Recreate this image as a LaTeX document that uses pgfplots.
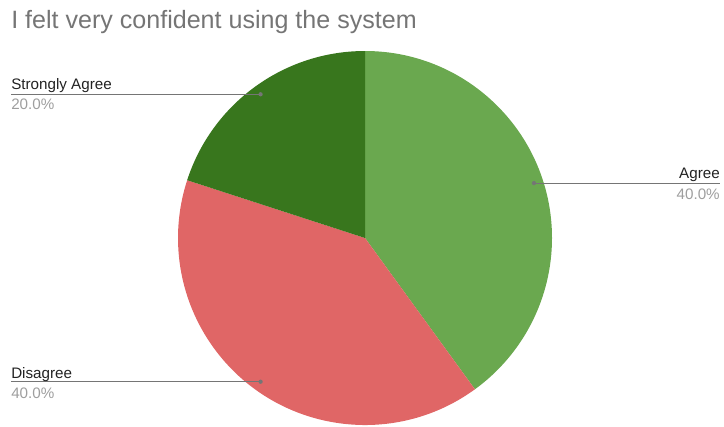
\documentclass[border=0pt]{standalone}
\usepackage{pgfplots}
\pgfplotsset{compat=1.18}
\usepackage{fontspec}
\setmainfont{Liberation Sans}
\definecolor{cAgree}{HTML}{6AA84F}
\definecolor{cDis}{HTML}{E06666}
\definecolor{cSA}{HTML}{38761D}
\definecolor{titlegray}{HTML}{757575}
\definecolor{pctgray}{HTML}{9E9E9E}
\definecolor{labgray}{HTML}{222222}
\definecolor{linegray}{HTML}{757575}
% data (percent)
\def\vA{40}   % Agree
\def\vD{40}   % Disagree
\def\vS{20}   % Strongly Agree
\def\R{187}
\begin{document}
\begin{tikzpicture}
\begin{axis}[
  at={(0,0)}, anchor=south west,
  width=543pt, height=319.5pt, scale only axis,
  xmin=0, xmax=724, ymin=0, ymax=426,
  hide axis, clip=false,
]
% slices (clockwise from 12 o'clock)
\fill[cAgree] (axis cs:365,188) -- (axis cs:365,{188+\R}) arc[start angle=90, end angle={90-3.6*\vA}, radius=140.25pt] -- cycle;
\fill[cDis] (axis cs:365,188) -- (axis cs:{365+\R*cos(90-3.6*\vA)},{188+\R*sin(90-3.6*\vA)}) arc[start angle={90-3.6*\vA}, end angle={90-3.6*(\vA+\vD)}, radius=140.25pt] -- cycle;
\fill[cSA] (axis cs:365,188) -- (axis cs:{365+\R*cos(90-3.6*(\vA+\vD))},{188+\R*sin(90-3.6*(\vA+\vD))}) arc[start angle={90-3.6*(\vA+\vD)}, end angle={-270}, radius=140.25pt] -- cycle;
% leaders
\draw[linegray, line width=0.75pt] (axis cs:{365+0.95*\R*cos(90-1.8*\vA)},{188+0.95*\R*sin(90-1.8*\vA)}) -- (axis cs:720,{188+0.95*\R*sin(90-1.8*\vA)});
\fill[linegray] (axis cs:{365+0.95*\R*cos(90-1.8*\vA)},{188+0.95*\R*sin(90-1.8*\vA)}) circle[radius=1.6pt];
\draw[linegray, line width=0.75pt] (axis cs:{365+0.95*\R*cos(90-3.6*\vA-1.8*\vD)},{188+0.95*\R*sin(90-3.6*\vA-1.8*\vD)}) -- (axis cs:11,{188+0.95*\R*sin(90-3.6*\vA-1.8*\vD)});
\fill[linegray] (axis cs:{365+0.95*\R*cos(90-3.6*\vA-1.8*\vD)},{188+0.95*\R*sin(90-3.6*\vA-1.8*\vD)}) circle[radius=1.6pt];
\draw[linegray, line width=0.75pt] (axis cs:{365+0.95*\R*cos(90-3.6*(\vA+\vD)-1.8*\vS)},{188+0.95*\R*sin(90-3.6*(\vA+\vD)-1.8*\vS)}) -- (axis cs:11,{188+0.95*\R*sin(90-3.6*(\vA+\vD)-1.8*\vS)});
\fill[linegray] (axis cs:{365+0.95*\R*cos(90-3.6*(\vA+\vD)-1.8*\vS)},{188+0.95*\R*sin(90-3.6*(\vA+\vD)-1.8*\vS)}) circle[radius=1.6pt];
% labels
\node[anchor=base west, inner sep=0pt, text=titlegray, font=\fontsize{18.8}{21}\selectfont] at (axis cs:11,398) {I felt very confident using the system};
\node[anchor=base east, inner sep=0pt, text=labgray, font=\fontsize{11.4}{13}\selectfont] at (axis cs:720,248) {Agree};
\node[anchor=base east, inner sep=0pt, text=pctgray, font=\fontsize{11.4}{13}\selectfont] at (axis cs:720,227) {40.0\%};
\node[anchor=base west, inner sep=0pt, text=labgray, font=\fontsize{11.4}{13}\selectfont] at (axis cs:11,337) {Strongly Agree};
\node[anchor=base west, inner sep=0pt, text=pctgray, font=\fontsize{11.4}{13}\selectfont] at (axis cs:11,317) {20.0\%};
\node[anchor=base west, inner sep=0pt, text=labgray, font=\fontsize{11.4}{13}\selectfont] at (axis cs:11,48) {Disagree};
\node[anchor=base west, inner sep=0pt, text=pctgray, font=\fontsize{11.4}{13}\selectfont] at (axis cs:11,28) {40.0\%};
\end{axis}
\pgfresetboundingbox
\path (0,0) rectangle (543pt,319.5pt);
\end{tikzpicture}
\end{document}
